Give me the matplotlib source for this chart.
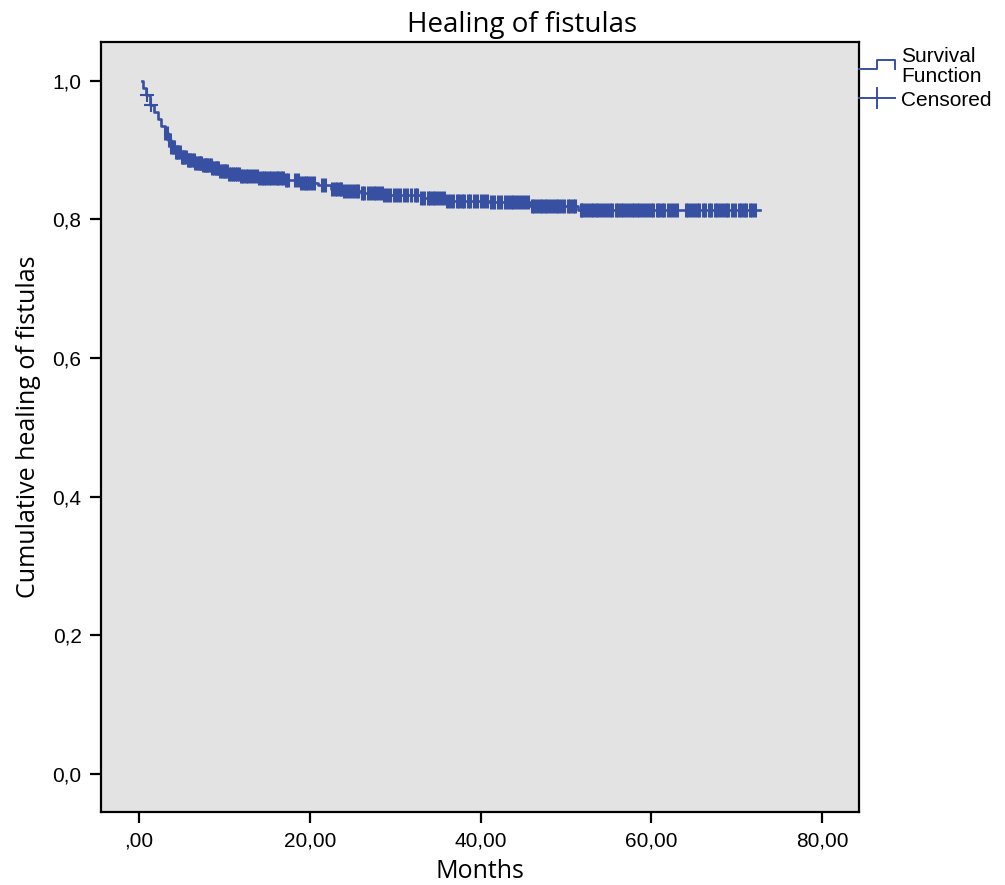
import matplotlib
matplotlib.use('Agg')
import matplotlib.pyplot as plt
from matplotlib.lines import Line2D
import numpy as np

# step points of the survival curve (months, cumulative healing)
event_t = [0.3, 0.5, 0.8, 1.3, 1.8, 2.2, 2.6, 3.0, 3.4, 3.8, 4.3, 4.9, 5.6,
           6.5, 7.5, 8.5, 9.5, 10.5, 12.0, 14.0, 17.0, 19.0, 21.0, 22.5,
           24.0, 26.0, 28.5, 33.0, 36.0, 41.0, 45.8, 51.4]
event_s = [1.0, 0.99, 0.98, 0.965, 0.955, 0.945, 0.935, 0.925, 0.915, 0.905,
           0.897, 0.890, 0.886, 0.882, 0.878, 0.874, 0.870, 0.866, 0.862,
           0.860, 0.857, 0.853, 0.849, 0.844, 0.841, 0.838, 0.835, 0.831,
           0.827, 0.825, 0.820, 0.814]
end_t = 72.7

# censored observations (months)
censor_t = [0.9, 1.4, 3.1, 3.3, 3.5, 3.6, 3.8, 4.0, 4.1, 4.3, 4.5, 4.6, 4.8,
            5.0, 5.1, 5.3, 5.5, 5.7, 5.8, 6.0, 6.2, 6.4, 6.6, 6.8, 7.0, 7.2,
            7.3, 7.5, 7.7, 7.9, 8.0, 8.2, 8.4, 8.6, 8.8, 9.0, 9.1, 9.3, 9.5,
            9.7, 9.9, 10.1, 10.3, 10.5, 10.8, 11.0, 11.2, 11.5, 11.7, 12.0,
            12.2, 12.5, 12.8, 13.1, 13.5, 13.8, 14.1, 14.4, 14.6, 14.9, 15.2,
            15.5, 15.8, 16.1, 16.3, 16.6, 16.9, 17.2, 17.5, 18.3, 18.6, 19.0,
            19.3, 19.6, 19.8, 20.1, 20.5, 21.4, 21.8, 22.6, 22.9, 23.2, 23.5,
            23.7, 24.0, 24.3, 24.7, 25.0, 25.4, 25.7, 26.1, 26.4, 26.8, 27.2,
            27.5, 27.8, 28.1, 28.4, 28.7, 29.0, 29.4, 29.8, 30.2, 30.6, 31.0,
            31.4, 31.8, 32.3, 32.6, 33.0, 33.4, 33.8, 34.1, 34.4, 34.7, 35.0,
            35.4, 35.7, 36.1, 36.4, 36.8, 37.2, 37.5, 37.8, 38.1, 38.5, 38.8,
            39.2, 39.6, 40.1, 40.4, 40.8, 41.2, 41.6, 42.0, 42.4, 42.8, 43.2,
            43.5, 43.8, 44.1, 44.5, 44.8, 45.2, 45.5, 46.0, 46.3, 46.6, 46.9,
            47.2, 47.5, 47.8, 48.1, 48.5, 48.8, 49.1, 49.4, 49.8, 50.2, 50.5,
            50.8, 51.1, 51.7, 51.9, 52.2, 52.6, 52.9, 53.2, 53.5, 53.8, 54.1,
            54.5, 54.8, 55.1, 55.4, 55.8, 56.1, 56.4, 56.7, 57.0, 57.4, 57.7,
            58.0, 58.3, 58.6, 58.9, 59.3, 59.6, 59.9, 60.2, 60.6, 60.9, 61.2,
            61.5, 61.9, 62.3, 62.6, 63.0, 64.0, 64.3, 64.6, 65.0, 65.3, 65.6,
            66.0, 66.3, 66.7, 67.0, 67.4, 67.7, 68.0, 68.4, 68.7, 69.0, 69.4,
            69.8, 70.2, 70.5, 70.8, 71.1, 71.5, 71.8, 72.1]

xticks = [0, 20, 40, 60, 80]
xtick_labels = [',00', '20,00', '40,00', '60,00', '80,00']
yticks = [0.0, 0.2, 0.4, 0.6, 0.8, 1.0]
ytick_labels = ['0,0', '0,2', '0,4', '0,6', '0,8', '1,0']

blue = '#3850a2'
tick_font = 'Liberation Sans'
label_font = ['Open Sans', 'DejaVu Sans']

fig = plt.figure(figsize=(10.05, 8.85), dpi=100)
ax = fig.add_axes([0.1005, 0.0825, 0.7542, 0.870])
ax.set_facecolor('#e3e3e3')

# survival step line
xs = list(event_t) + [end_t]
ys = list(event_s) + [event_s[-1]]
ax.step(xs, ys, where='post', color=blue, lw=1.9)

# censor marks sit on the curve
et = np.array(event_t)
es = np.array(event_s)
cs = [es[np.searchsorted(et, t, side='right') - 1] for t in censor_t]
ax.plot(censor_t[2:], cs[2:], ls='none', marker='|', ms=10, mew=2.2, color=blue)
# first two censored look like plus signs
ax.plot(censor_t[:2], cs[:2], ls='none', marker='+', ms=10, mew=1.5, color=blue)

ax.set_xlim(-4.45, 84.3)
ax.set_ylim(-0.055, 1.056)
ax.set_xticks(xticks)
ax.set_xticklabels(xtick_labels, fontfamily=tick_font, fontsize=15)
ax.set_yticks(yticks)
ax.set_yticklabels(ytick_labels, fontfamily=tick_font, fontsize=15)
ax.tick_params(direction='out', length=8, width=1.6, colors='black', pad=6)
for sp in ax.spines.values():
    sp.set_linewidth(1.6)

ax.set_xlabel('Months', fontfamily=label_font, fontsize=18, labelpad=6)
ax.set_ylabel('Cumulative healing of fistulas', fontfamily=label_font,
              fontsize=18, labelpad=8)

W, H = 1005.0, 885.0
def fx(px):
    return px / W
def fy(py):
    return 1 - py / H

# title sits a little right of the plot centre
fig.text(fx(522), fy(32), 'Healing of fistulas', fontfamily=label_font,
         fontsize=20, ha='center', va='baseline')

# legend drawn by hand outside the plot area
fig.add_artist(Line2D([fx(859), fx(877), fx(877), fx(895), fx(895)],
                      [fy(69), fy(69), fy(60), fy(60), fy(69)],
                      color=blue, lw=1.4, transform=fig.transFigure))
fig.add_artist(Line2D([fx(859), fx(895)], [fy(98), fy(98)],
                      color=blue, lw=1.4, transform=fig.transFigure))
fig.add_artist(Line2D([fx(877), fx(877)], [fy(88), fy(108)],
                      color=blue, lw=1.4, transform=fig.transFigure))
fig.text(fx(901), fy(56), 'Survival', fontfamily=tick_font, fontsize=15, va='center')
fig.text(fx(901), fy(76), 'Function', fontfamily=tick_font, fontsize=15, va='center')
fig.text(fx(901), fy(100), 'Censored', fontfamily=tick_font, fontsize=15, va='center')

fig.savefig('out.png', dpi=100)
